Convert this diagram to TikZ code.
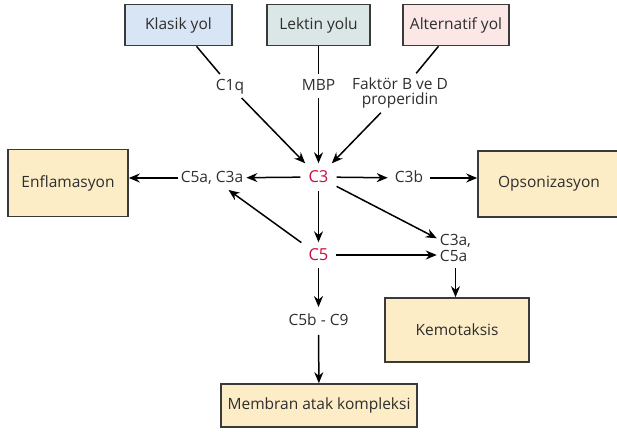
\documentclass[tikz,border=0pt]{standalone}
\usepackage{fontspec}
\setmainfont{Open Sans}
\usetikzlibrary{arrows.meta}
\definecolor{klasikfill}{HTML}{D7E5F4}
\definecolor{lektinfill}{HTML}{DAE7E6}
\definecolor{alterfill}{HTML}{FBE7E5}
\definecolor{sonucfill}{HTML}{FCEDC6}
\definecolor{kutucizgi}{HTML}{3A3A3A}
\definecolor{yazi}{HTML}{2E2E2E}
\definecolor{kirmizi}{HTML}{C8103E}

\begin{document}
\begin{tikzpicture}[x=1pt,y=-1pt,font=\fontsize{15.5}{16}\selectfont,text=yazi]
\tikzstyle{yol}=[draw=kutucizgi, line width=1.6pt, minimum height=41pt]
\tikzstyle{sonuc}=[draw=kutucizgi, line width=1.6pt, fill=sonucfill]
\tikzstyle{etiket}=[inner xsep=3pt, inner ysep=5pt, text height=11pt, text depth=2.5pt]
\tikzstyle{bilesen}=[text=kirmizi, text height=11pt, text depth=0pt, font=\fontsize{16.5}{17}\selectfont]
\tikzstyle{ok}=[-{Stealth[length=11pt,width=9pt]}, line width=1.5pt, draw=black]
\tikzstyle{cizgi}=[line width=1.5pt, draw=black]
\useasboundingbox (0,0) rectangle (617,431);

% Three pathways at the top
\node (klasik) at (178.5,25) [yol, fill=klasikfill, minimum width=107pt] {Klasik yol};
\node (lektin) at (318.5,25) [yol, fill=lektinfill, minimum width=103pt] {Lektin yolu};
\node (alter) at (456,25) [yol, fill=alterfill, minimum width=106pt] {Alternatif yol};

% activators
\node (c1q) at (230,86) [etiket] {C1q};
\node (mbp) at (318.5,86) [etiket] {MBP};
\node (faktor) at (400,93) [inner sep=4pt, align=center, font=\fontsize{15.5}{15.5}\selectfont] {Faktör B ve D\\properidin};

% C3 and C5
\node (c3) at (318.5,177) [bilesen, inner sep=8pt] {C3};
\node (c5) at (318.5,255) [bilesen, inner sep=7pt] {C5};

% fragments
\node (cl) at (212,178) [etiket] {C5a, C3a};
\node (c3b) at (409,178) [etiket, inner xsep=7pt] {C3b};
\node (cxa) at (455.5,248) [inner xsep=3pt, inner ysep=6pt, align=left, font=\fontsize{15.5}{16}\selectfont] {C3a,\\C5a};
\node (c59) at (318.5,321) [etiket, inner ysep=7pt] {C5b - C9};

% results
\node (enfl) at (68,183) [sonuc, minimum width=120pt, minimum height=67pt] {Enflamasyon};
\node (opson) at (549,184) [sonuc, minimum width=142pt, minimum height=66pt] {Opsonizasyon};
\node (kemo) at (457,330) [sonuc, minimum width=144pt, minimum height=64pt] {Kemotaksis};
\node (membran) at (319,405.5) [sonuc, minimum width=196pt, minimum height=43pt] {Membran atak kompleksi};

% pathways into C3
\draw[cizgi] (klasik) -- (c1q);
\draw[ok] (c1q) -- (c3);
\draw[cizgi] (lektin) -- (mbp);
\draw[ok] (mbp) -- (c3);
\draw[cizgi] (alter) -- (faktor);
\draw[ok] (faktor) -- (c3);

% C3 products
\draw[ok] (c3) -- (cl);
\draw[ok] (cl) -- (cl -| enfl.east);
\draw[ok] (c3) -- (c3b);
\draw[ok] (c3b) -- (c3b -| opson.west);
\draw[ok] (c3) -- (cxa);
\draw[ok] (c3) -- (c5);

% C5 products
\draw[ok] (c5) -- (cl);
\draw[ok] (c5) -- (c5 -| cxa.west);
\draw[ok] (cxa.south) -- (cxa.south |- kemo.north);
\draw[ok] (c5) -- (c59);
\draw[ok] (c59) -- (membran);
\end{tikzpicture}
\end{document}
